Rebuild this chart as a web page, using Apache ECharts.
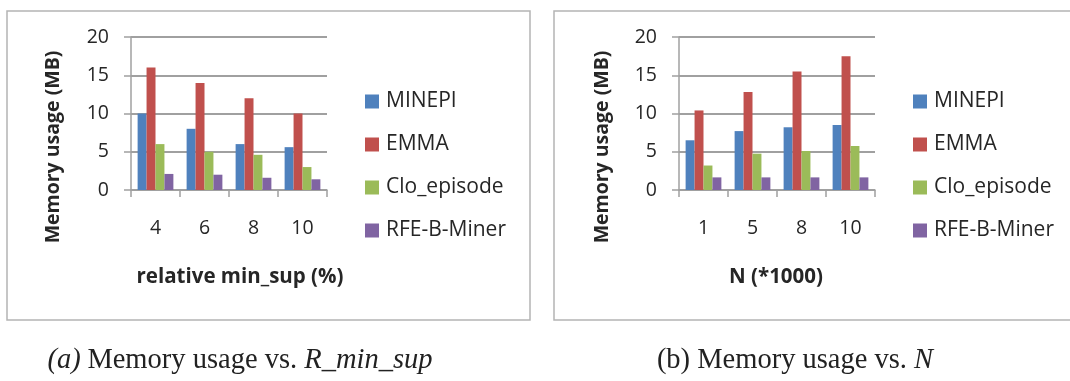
<!DOCTYPE html>
<html>
<head>
<meta charset="utf-8">
<script src="https://cdn.jsdelivr.net/npm/echarts@6/dist/echarts.min.js"></script>
<style>
html,body{margin:0;padding:0;background:#fff;}
#chart{width:1070px;height:381px;}
</style>
</head>
<body>
<div id="chart"></div>
<script>
// ---- data ----
const seriesNames = ['MINEPI', 'EMMA', 'Clo_episode', 'RFE-B-Miner'];
const catsA = ['4', '6', '8', '10'];
const catsB = ['1', '5', '8', '10'];
const minepiA = [10, 8, 6, 5.6];
const emmaA = [16, 14, 12, 10];
const cloA = [6, 5, 4.6, 3];
const rfeA = [2.1, 2.0, 1.6, 1.4];
const minepiB = [6.5, 7.7, 8.2, 8.5];
const emmaB = [10.4, 12.8, 15.5, 17.5];
const cloB = [3.2, 4.75, 5.1, 5.75];
const rfeB = [1.65, 1.65, 1.65, 1.65];
const yTicks = [0, 5, 10, 15, 20];
const xNameA = 'relative min_sup (%)';
const xNameB = 'N (*1000)';
const yName = 'Memory usage (MB)';

const colors = ['#4F81BD', '#C0504D', '#9BBB59', '#8064A2'];
const font = '"Open Sans", sans-serif';
const txt = '#262626';
const gridCol = '#a0a0a0';

function yAxis(gi) {
  return {
    type: 'value', gridIndex: gi, min: yTicks[0], max: yTicks[yTicks.length - 1], interval: 5,
    axisLine: {show: true, lineStyle: {color: gridCol, width: 1.5}},
    axisTick: {show: true, length: 7, lineStyle: {color: gridCol, width: 1.5}},
    axisLabel: {fontFamily: font, fontSize: 19.5, color: txt, margin: 22},
    splitLine: {show: true, lineStyle: {color: gridCol, width: 2}}
  };
}
function xAxis(gi, cats) {
  return {
    type: 'category', gridIndex: gi, data: cats,
    axisLine: {show: true, lineStyle: {color: gridCol, width: 1.5}},
    axisTick: {show: true, length: 7, alignWithLabel: false, lineStyle: {color: gridCol, width: 1.5}},
    axisLabel: {fontFamily: font, fontSize: 19.5, color: txt, margin: 28},
    splitLine: {show: false}
  };
}
function bars(gi, arrs) {
  return arrs.map((d, i) => ({
    name: seriesNames[i], type: 'bar', xAxisIndex: gi, yAxisIndex: gi, data: d,
    itemStyle: {color: colors[i]}, barGap: '0%', barCategoryGap: '27%'
  }));
}
function legend(left) {
  return {
    orient: 'vertical', left: left, top: 86, itemWidth: 14, itemHeight: 14, itemGap: 22,
    data: seriesNames, icon: 'rect',
    textStyle: {fontFamily: font, fontSize: 21, color: txt, padding: [0, 0, 0, 2]}
  };
}
function nameText(x, y, s, rot, size) {
  return {
    type: 'text', x: x, y: y, rotation: rot ? Math.PI / 2 : 0,
    style: {text: s, fontFamily: font, fontWeight: 'bold', fontSize: size, fill: txt, align: 'center', verticalAlign: 'middle'}
  };
}
const capFont = '"Liberation Serif", "Times New Roman", serif';

const chart = echarts.init(document.getElementById('chart'), null, {renderer: 'canvas'});
chart.setOption({
  animation: false,
  backgroundColor: '#fff',
  color: colors,
  grid: [
    {left: 131, top: 37, width: 196, height: 153},
    {left: 679, top: 37, width: 196, height: 153}
  ],
  xAxis: [xAxis(0, catsA), xAxis(1, catsB)],
  yAxis: [yAxis(0), yAxis(1)],
  legend: [legend(360), legend(908)],
  series: [].concat(bars(0, [minepiA, emmaA, cloA, rfeA]), bars(1, [minepiB, emmaB, cloB, rfeB])),
  graphic: [
    {type: 'rect', shape: {x: 7, y: 11, width: 523, height: 309}, style: {fill: null, stroke: '#b4b4b4', lineWidth: 1.5}, z: 0},
    {type: 'rect', shape: {x: 554, y: 11, width: 530, height: 309}, style: {fill: null, stroke: '#b4b4b4', lineWidth: 1.5}, z: 0},
    nameText(53, 147, yName, true, 19.5),
    nameText(602, 147, yName, true, 19.5),
    nameText(240, 277, xNameA, false, 20.5),
    nameText(776, 277, xNameB, false, 20.5),
    {
      type: 'text', x: 240, y: 361,
      style: {
        text: '{i|(a)}  {n|Memory usage vs. }{i|R_min_sup}',
        align: 'center', verticalAlign: 'middle',
        rich: {
          i: {fontFamily: capFont, fontStyle: 'italic', fontSize: 28.5, fill: '#222'},
          n: {fontFamily: capFont, fontSize: 28.5, fill: '#222'}
        }
      }
    },
    {
      type: 'text', x: 795, y: 361,
      style: {
        text: '{n|(b) Memory usage vs. }{i|N}',
        align: 'center', verticalAlign: 'middle',
        rich: {
          i: {fontFamily: capFont, fontStyle: 'italic', fontSize: 28.5, fill: '#222'},
          n: {fontFamily: capFont, fontSize: 28.5, fill: '#222'}
        }
      }
    }
  ]
});
</script>
</body>
</html>
